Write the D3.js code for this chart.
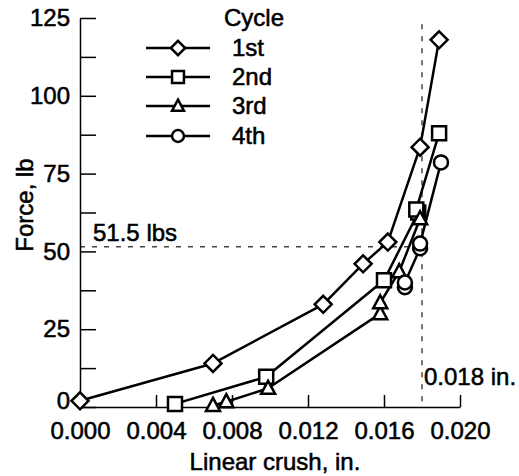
<!DOCTYPE html>
<html>
<head>
<meta charset="utf-8">
<script src="https://cdn.jsdelivr.net/npm/d3@7"></script>
<style>
  html, body { margin: 0; padding: 0; background: #fff; }
  svg { display: block; }
  text { font-family: "Liberation Sans", Arial, Helvetica, sans-serif; fill: #000; stroke: #000; stroke-width: 0.55px; }
</style>
</head>
<body>
<svg id="chart" width="519" height="476"></svg>
<script>
// ---- data ----
const cycles = ["1st", "2nd", "3rd", "4th"];
const shapes = ["diamond", "square", "triangle", "circle"];
const crush1 = [0.0000, 0.0070, 0.0128, 0.0149, 0.0162, 0.0179, 0.0189];
const force1 = [2, 14, 33, 46, 53, 83.5, 118];
const crush2 = [0.0050, 0.0098, 0.0160, 0.0178, 0.0177, 0.0189];
const force2 = [1, 9.7, 40.7, 62.5, 63.5, 88];
const crush3 = [0.0070, 0.0077, 0.0099, 0.0158, 0.0158, 0.0168, 0.0179];
const force3 = [0.5, 1.7, 6, 30, 33.5, 43.5, 60.5];
const crush4 = [0.0171, 0.0171, 0.0179, 0.0179, 0.0190];
const force4 = [38.5, 40, 51, 52.5, 78.6];
const xTicks = [0, 0.004, 0.008, 0.012, 0.016, 0.020];
const yTicks = [0, 12.5, 25, 37.5, 50, 62.5, 75, 87.5, 100, 112.5, 125];
const yLabelTicks = [0, 25, 50, 75, 100, 125];
const refForce = 51.5;
const refCrush = 0.018;
const refForceLabel = "51.5 lbs";
const refCrushLabel = "0.018 in.";
const xTitle = "Linear crush, in.";
const yTitle = "Force, lb";
const legendTitle = "Cycle";

const series = [
  { name: cycles[0], shape: shapes[0], xs: crush1, ys: force1 },
  { name: cycles[1], shape: shapes[1], xs: crush2, ys: force2 },
  { name: cycles[2], shape: shapes[2], xs: crush3, ys: force3 },
  { name: cycles[3], shape: shapes[3], xs: crush4, ys: force4 }
];

// ---- layout ----
const FS = 24;
const svg = d3.select("#chart");
const x = d3.scaleLinear().domain([0, 0.020]).range([80, 460]);
const y = d3.scaleLinear().domain([0, 125]).range([407, 18]);

function markerPath(shape, k) {
  k = k || 1;
  if (shape === "diamond") { const r = 8.5 * k; return `M0,${-r}L${r},0L0,${r}L${-r},0Z`; }
  if (shape === "square") { const h = 7 * k; return `M${-h},${-h}H${h}V${h}H${-h}Z`; }
  if (shape === "triangle") { const w = 7 * k, t = 7.5 * k, b = 5.5 * k; return `M0,${-t}L${w},${b}L${-w},${b}Z`; }
  const r = 7 * k; return `M${r},0A${r},${r} 0 1,1 ${-r},0A${r},${r} 0 1,1 ${r},0Z`;
}

// reference dashed lines
svg.append("line")
  .attr("x1", x(0)).attr("x2", x(refCrush))
  .attr("y1", y(refForce)).attr("y2", y(refForce))
  .attr("stroke", "#444").attr("stroke-width", 1.5).attr("stroke-dasharray", "5,7");
svg.append("line")
  .attr("x1", x(refCrush)).attr("x2", x(refCrush))
  .attr("y1", y(123)).attr("y2", y(0))
  .attr("stroke", "#444").attr("stroke-width", 1.5).attr("stroke-dasharray", "5,7");

// axes
const yAxis = d3.axisLeft(y).tickValues(yTicks).tickSizeInner(-16).tickSizeOuter(0)
  .tickPadding(10).tickFormat(d => yLabelTicks.includes(d) ? d3.format("d")(d) : "");
const gy = svg.append("g").attr("transform", `translate(${x(0)},0)`).call(yAxis);
const xAxis = d3.axisBottom(x).tickValues(xTicks).tickSizeInner(-12).tickSizeOuter(0)
  .tickPadding(15).tickFormat(d3.format(".3f"));
const gx = svg.append("g").attr("transform", `translate(0,${y(0)})`).call(xAxis);
[gx, gy].forEach(g => {
  g.selectAll("path.domain").attr("stroke", "#000").attr("stroke-width", 1.5);
  g.selectAll(".tick line").attr("stroke", "#000").attr("stroke-width", 1.5);
  g.selectAll(".tick text").attr("font-size", FS).attr("font-family", "Liberation Sans, Arial, sans-serif")
    .attr("fill", "#000").attr("stroke", "#000").attr("stroke-width", 0.55);
});
gx.selectAll(".tick").filter(d => d === 0).select("line").remove();
// the "0" force label sits slightly above the baseline in the reference
gy.selectAll(".tick").filter(d => d === 0).select("text").attr("y", -6);

// titles
svg.append("text").attr("x", 275).attr("y", 470).attr("text-anchor", "middle")
  .attr("font-size", FS).text(xTitle);
svg.append("text").attr("transform", "translate(33,205) rotate(-90)").attr("text-anchor", "middle")
  .attr("font-size", FS).text(yTitle);

// annotation labels
svg.append("text").attr("x", x(0) + 13).attr("y", y(refForce) - 6).attr("font-size", FS).text(refForceLabel);
svg.append("text").attr("x", x(refCrush) + 2).attr("y", 385).attr("font-size", FS).text(refCrushLabel);

// series
const line = d3.line().x(d => x(d[0])).y(d => y(d[1]));
series.forEach(s => {
  const pts = s.xs.map((v, i) => [v, s.ys[i]]);
  svg.append("path").datum(pts).attr("d", line)
    .attr("fill", "none").attr("stroke", "#000").attr("stroke-width", 2.5).attr("stroke-linejoin", "round");
});
series.forEach(s => {
  const pts = s.xs.map((v, i) => [v, s.ys[i]]);
  svg.append("g").selectAll("path").data(pts).join("path")
    .attr("transform", d => `translate(${x(d[0])},${y(d[1])})`)
    .attr("d", markerPath(s.shape))
    .attr("fill", "#fff").attr("stroke", "#000").attr("stroke-width", 2.5);
});

// legend
const legend = svg.append("g");
legend.append("text").attr("x", 224).attr("y", 18).attr("dy", "0.35em").attr("font-size", FS).text(legendTitle);
const rowY = [48, 77, 106, 136];
series.forEach((s, i) => {
  const g = legend.append("g").attr("transform", `translate(0,${rowY[i]})`);
  g.append("line").attr("x1", 146).attr("x2", 210).attr("y1", 0).attr("y2", 0)
    .attr("stroke", "#000").attr("stroke-width", 2.5);
  g.append("path").attr("transform", "translate(178,0)").attr("d", markerPath(s.shape, 0.85))
    .attr("fill", "#fff").attr("stroke", "#000").attr("stroke-width", 2.5);
  g.append("text").attr("x", 232).attr("y", 0).attr("dy", "0.35em").attr("font-size", FS).text(s.name);
});
</script>
</body>
</html>
